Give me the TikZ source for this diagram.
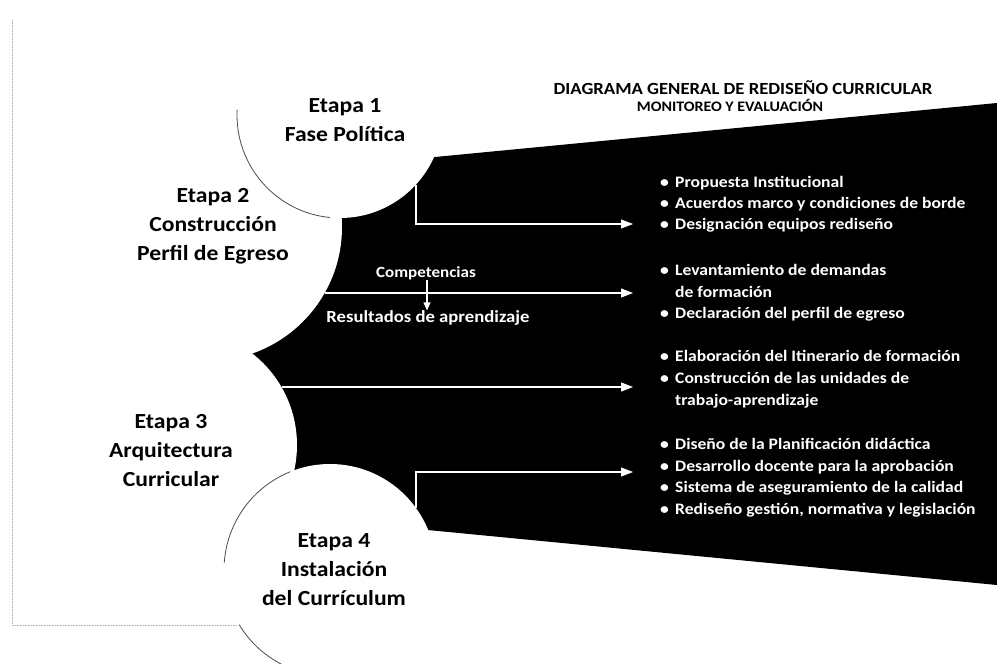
\documentclass[tikz,border=0pt]{standalone}
\usepackage{fontspec}
\setmainfont{Carlito}[FakeStretch=1.1]
\usetikzlibrary{arrows.meta}
\newcommand\myb{\makebox[15pt][l]{\textbullet}}
\newcommand\myind{\hspace*{15pt}}
\begin{document}
\begin{tikzpicture}[x=1pt,y=-1pt,
  stage/.style={align=center, font=\fontsize{21.5}{29}\selectfont\bfseries, text=black, inner sep=0pt},
  item/.style={anchor=base west, font=\fontsize{16}{20}\selectfont\bfseries, text=white, inner sep=0pt},
  small/.style={font=\fontsize{15.5}{18}\selectfont\bfseries, text=white, inner sep=0pt},
  flow/.style={draw=white, line width=1.2pt, -{Triangle[length=12pt,width=9pt]}},
  minor/.style={draw=white, line width=1.1pt, -{Triangle[length=8pt,width=7pt]}},
  outline/.style={draw=black!70, line width=0.8pt},
  frame/.style={draw=black!30, line width=0.6pt, densely dotted}
]
\useasboundingbox (0,0) rectangle (997,664);
\fill[white] (0,0) rectangle (997,664);

% black funnel
\fill[black] (230,176.7) -- (997,103) -- (997,585) -- (230,510.9) -- cycle;

% circle centres
\coordinate (c1) at (340,115);
\coordinate (c2) at (208,227);
\coordinate (c3) at (181,445);
\coordinate (c4) at (330,570);
\fill[white] (c1) circle[radius=103pt];
\fill[white] (c2) circle[radius=134pt];
\fill[white] (c3) circle[radius=116pt];
\fill[white] (c4) circle[radius=106pt];

% visible outlines
\draw[outline] ([shift={(177.2:103pt)}]c1) arc[start angle=177.2, end angle=264.4, radius=103pt];
\draw[outline] ([shift={(112:106pt)}]c4) arc[start angle=112, end angle=176, radius=106pt];
\draw[outline] ([shift={(211:106pt)}]c4) arc[start angle=211, end angle=246, radius=106pt];

% faint scan frame
\coordinate (f1) at (12,20);
\coordinate (f2) at (12,625);
\coordinate (f3) at (237,625);
\draw[frame] (f1) -- (f2) -- (f3);

% stage labels
\node[stage] (s1) at (345,120) {Etapa 1\\Fase Política};
\node[stage] (s2) at (213,226) {Etapa 2\\Construcción\\Perfil de Egreso};
\node[stage] (s3) at (171,451) {Etapa 3\\Arquitectura\\Curricular};
\node[stage] (s4) at (334,570) {Etapa 4\\Instalación\\del Currículum};

% title
\node[font=\fontsize{17}{20}\selectfont\bfseries, inner sep=0pt] (t1) at (743,88) {DIAGRAMA GENERAL DE REDISEÑO CURRICULAR};
\node[font=\fontsize{14.5}{17}\selectfont\bfseries, inner sep=0pt] (t2) at (730,105) {MONITOREO Y EVALUACIÓN};

% arrows
\coordinate (a1s) at (416,185);
\coordinate (a1c) at (416,224);
\coordinate (a1e) at (633,224);
\draw[flow] (a1s) -- (a1c) -- (a1e);
\coordinate (a2s) at (325,293);
\coordinate (a2e) at (633,293);
\draw[flow] (a2s) -- (a2e);
\coordinate (a3s) at (282,387);
\coordinate (a3e) at (633,387);
\draw[flow] (a3s) -- (a3e);
\coordinate (a4s) at (416,508);
\coordinate (a4c) at (416,472);
\coordinate (a4e) at (633,472);
\draw[flow] (a4s) -- (a4c) -- (a4e);

% competencias
\node[small] (comp) at (426,273) {Competencias};
\node[small, font=\fontsize{17}{20}\selectfont\bfseries] (res) at (428,318) {Resultados de aprendizaje};
\draw[minor] (comp.south -| 427,0) -- (res.north -| 427,0);

% bullet lists
\node[item] (l1a) at (660,187) {\myb Propuesta Institucional};
\node[item] (l1b) at (660,208) {\myb Acuerdos marco y condiciones de borde};
\node[item] (l1c) at (660,229) {\myb Designación equipos rediseño};

\node[item] (l2a) at (660,275) {\myb Levantamiento de demandas};
\node[item] (l2b) at (660,297) {\myind de formación};
\node[item] (l2c) at (660,318) {\myb Declaración del perfil de egreso};

\node[item] (l3a) at (660,361) {\myb Elaboración del Itinerario de formación};
\node[item] (l3b) at (660,383) {\myb Construcción de las unidades de};
\node[item] (l3c) at (660,405) {\myind trabajo-aprendizaje};

\node[item] (l4a) at (660,449) {\myb Diseño de la Planificación didáctica};
\node[item] (l4b) at (660,471) {\myb Desarrollo docente para la aprobación};
\node[item] (l4c) at (660,492) {\myb Sistema de aseguramiento de la calidad};
\node[item] (l4d) at (660,514) {\myb Rediseño gestión, normativa y legislación};
\end{tikzpicture}
\end{document}
